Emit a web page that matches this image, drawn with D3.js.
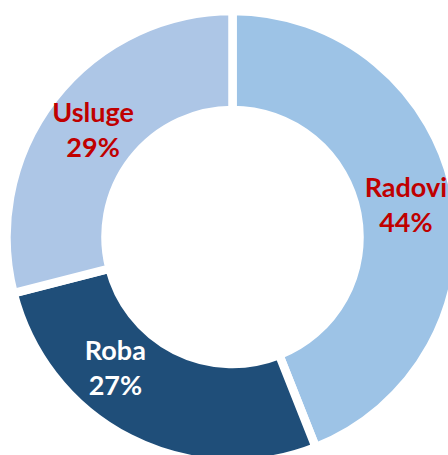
<!DOCTYPE html>
<html>
<head>
<meta charset="utf-8">
<title>Donut</title>
<script src="https://d3js.org/d3.v7.min.js"></script>
<style>
  body { margin: 0; background: #fff; }
  text { font-family: Lato, "Open Sans", sans-serif; font-weight: bold; }
</style>
</head>
<body>
<div id="chart"></div>
<script>
var categories = ["Radovi", "Roba", "Usluge"];
var values = [44, 27, 29];
var colors = ["#9DC3E6", "#1F4E79", "#ADC6E6"];
var labelColors = ["#C00000", "#FFFFFF", "#C00000"];
// label nudges relative to the arc centroid
var nudgeX = [0, -37, 0];
var nudgeY = [0, -27, 0];

var width = 448, height = 455,
    cx = 232.5, cy = 237,
    outerRadius = 226, innerRadius = 127;

var svg = d3.select("#chart").append("svg")
    .attr("width", width)
    .attr("height", height)
  .append("g")
    .attr("transform", "translate(" + cx + "," + cy + ")");

var data = categories.map(function(c, i) { return {name: c, value: values[i], i: i}; });

var pie = d3.pie().sort(null).value(function(d) { return d.value; });
var arc = d3.arc().innerRadius(innerRadius).outerRadius(outerRadius);

var slices = pie(data);

svg.selectAll("path")
    .data(slices)
  .enter().append("path")
    .attr("d", arc)
    .attr("fill", function(d) { return colors[d.data.i]; })
    .attr("stroke", "#fff")
    .attr("stroke-width", 8.5)
    .attr("stroke-linejoin", "miter");

var labels = svg.selectAll("text.lbl")
    .data(slices)
  .enter().append("text")
    .attr("class", "lbl")
    .attr("text-anchor", "middle")
    .attr("font-size", 27)
    .attr("fill", function(d) { return labelColors[d.data.i]; })
    .attr("transform", function(d) {
      var c = arc.centroid(d);
      return "translate(" + (c[0] + nudgeX[d.data.i]) + "," + (c[1] + nudgeY[d.data.i]) + ")";
    });

labels.append("tspan")
    .attr("x", 0)
    .attr("y", -7)
    .text(function(d) { return d.data.name; });
labels.append("tspan")
    .attr("x", 0)
    .attr("y", 28)
    .text(function(d) { return d.data.value + "%"; });
</script>
</body>
</html>
